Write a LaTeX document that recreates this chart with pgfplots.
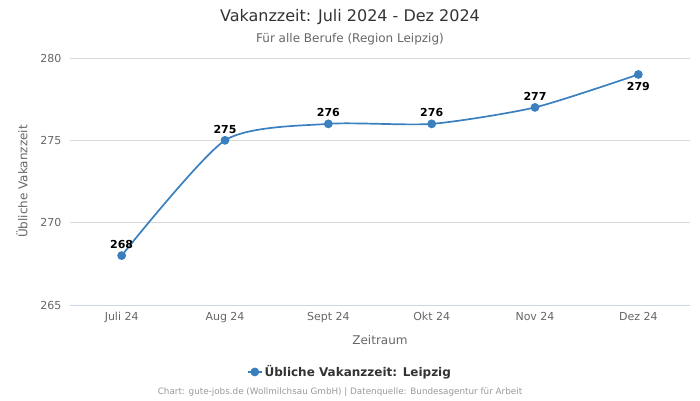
\documentclass[border=0pt]{standalone}
\usepackage{pgfplots}
\pgfplotsset{compat=1.18}
\usepackage{fontspec}
\setmainfont{DejaVu Sans}
\definecolor{linec}{RGB}{58,128,190}
\definecolor{titlec}{RGB}{51,51,51}
\definecolor{subc}{RGB}{102,102,102}
\definecolor{gridc}{RGB}{216,216,216}
\definecolor{basec}{RGB}{204,214,235}
\definecolor{credc}{RGB}{153,153,153}
\begin{document}
\begin{tikzpicture}[x=1pt,y=1pt]
\path[use as bounding box] (0,0) rectangle (700,400);
\begin{axis}[
  at={(70pt,95pt)}, anchor=south west,
  scale only axis, width=620pt, height=247pt,
  xmin=-0.5, xmax=5.5, ymin=265, ymax=280,
  xtick={0,1,2,3,4,5},
  xticklabels={Juli 24,Aug 24,Sept 24,Okt 24,Nov 24,Dez 24},
  ytick={265,270,275,280},
  /pgf/number format/assume math mode=true,
  tick label style={font=\fontsize{11}{13}\selectfont, text=subc},
  xtick style={draw=none}, ytick style={draw=none},
  axis line style={draw=none},
  ymajorgrids, grid style={gridc, line width=0.7pt},
  yticklabel style={xshift=-5pt},
  xticklabel style={yshift=-4pt},
  xlabel={Zeitraum}, xlabel style={font=\fontsize{12}{14}\selectfont, text=subc, yshift=-5pt},
  ylabel={Übliche Vakanzzeit}, ylabel style={font=\fontsize{12}{14}\selectfont, text=subc, yshift=6pt},
  clip=false,
  legend style={at={(0.4516,-0.271)}, anchor=center, draw=none, fill=none,
    font=\bfseries\fontsize{12}{14}\selectfont, text=titlec},
  legend image code/.code={\draw[linec, line width=1.5pt] (-2pt,0pt) -- (12pt,0pt); \fill[linec] (5pt,0pt) circle (3.5pt);},
]
\draw[basec, line width=0.8pt] (rel axis cs:0,0) -- (rel axis cs:1,0);
\addplot[linec, line width=1.7pt, smooth, tension=0.4, mark=*, mark size=3.5pt, mark options={fill=linec, draw=linec}]
coordinates {(0,268) (1,275) (2,276) (3,276) (4,277) (5,279)};
\addlegendentry{Übliche Vakanzzeit: Leipzig}
\addplot[draw=none, forget plot, nodes near coords, point meta=explicit symbolic,
  every node near coord/.append style={font=\bfseries\fontsize{11}{13}\selectfont, text=black, anchor=center, yshift=11pt}]
coordinates {(0,268) [268] (1,275) [275] (2,276) [276] (3,276) [276] (4,277) [277]};
\addplot[draw=none, forget plot, nodes near coords, point meta=explicit symbolic,
  every node near coord/.append style={font=\bfseries\fontsize{11}{13}\selectfont, text=black, anchor=center, yshift=-12pt}]
coordinates {(5,279) [279]};
\end{axis}
\node[font=\fontsize{16}{18}\selectfont, text=titlec] at (350,383) {Vakanzzeit: Juli 2024 - Dez 2024};
\node[font=\fontsize{12}{14}\selectfont, text=subc] at (350,361) {Für alle Berufe (Region Leipzig)};
\node[font=\fontsize{8.8}{10}\selectfont, text=credc] at (340,8) {Chart: gute-jobs.de (Wollmilchsau GmbH) | Datenquelle: Bundesagentur für Arbeit};
\end{tikzpicture}
\end{document}
